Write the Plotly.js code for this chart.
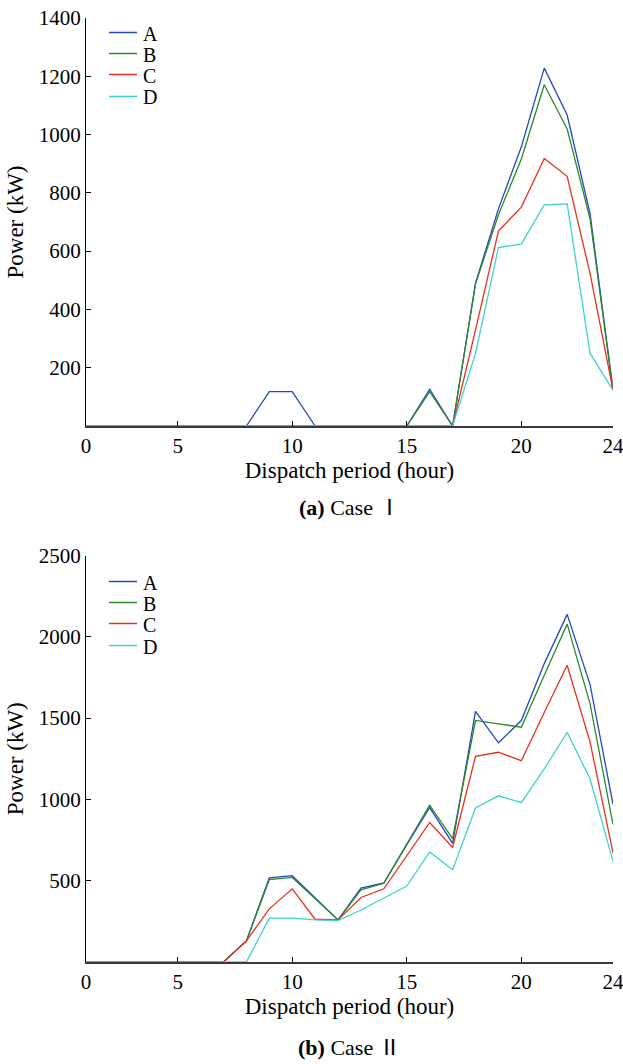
<!DOCTYPE html>
<html>
<head>
<meta charset="utf-8">
<script src="https://cdn.plot.ly/plotly-3.0.1.min.js"></script>
<style>html,body{margin:0;padding:0;background:#fff;}#chart{width:623px;height:1064px;}</style>
</head>
<body>
<div id="chart"></div>
<script>
// ---------- data ----------
const hours = [1,2,3,4,5,6,7,8,9,10,11,12,13,14,15,16,17,18,19,20,21,22,23,24];
const xTickVals = [1,5,10,15,20,24];
const xTickText = ['0','5','10','15','20','24'];
const seriesNames = ['A','B','C','D'];
const seriesColors = ['#2447c0','#2a8a2a','#e8301e','#3fd3d0'];

// Case I
const caseI_A = [0,0,0,0,0,0,0,0,118,118,0,0,0,0,0,126,0,490,745,958,1228,1067,728,123];
const caseI_B = [0,0,0,0,0,0,0,0,0,0,0,0,0,0,0,118,0,488,725,916,1171,1019,711,123];
const caseI_C = [0,0,0,0,0,0,0,0,0,0,0,0,0,0,0,0,0,330,669,751,918,857,523,123];
const caseI_D = [0,0,0,0,0,0,0,0,0,0,0,0,0,0,0,0,0,249,612,625,759,762,249,123];
const caseI_yTicks = [200,400,600,800,1000,1200,1400];

// Case II
const caseII_A = [0,0,0,0,0,0,0,130,517,531,392,259,455,486,722,950,730,1542,1348,1485,1835,2138,1706,970];
const caseII_B = [0,0,0,0,0,0,0,130,506,520,390,259,444,484,725,965,759,1486,1465,1444,1763,2078,1588,846];
const caseII_C = [0,0,0,0,0,0,0,130,327,450,263,259,397,450,654,858,704,1265,1290,1238,1535,1825,1352,671];
const caseII_D = [0,0,0,0,0,0,0,0,270,270,259,255,320,391,467,677,568,947,1022,980,1187,1413,1125,619];
const caseII_yTicks = [500,1000,1500,2000,2500];

const xTitle = 'Dispatch period (hour)';
const yTitle = 'Power (kW)';
const captionI = '<b>(a)</b> Case Ⅰ';
const captionII = '<b>(b)</b> Case Ⅱ';

// ---------- figure ----------
const FONT = "'Liberation Serif', 'Times New Roman', 'Noto Sans CJK SC', serif";
const W = 623, H = 1064, M = {l:86, r:10, t:18, b:102};
const PW = W - M.l - M.r, PH = H - M.t - M.b;
const px2x = p => (p - M.l) / PW;
const px2y = p => (H - M.b - p) / PH;

const caseI = [caseI_A, caseI_B, caseI_C, caseI_D];
const caseII = [caseII_A, caseII_B, caseII_C, caseII_D];

const traces = [];
caseI.forEach((ys, i) => traces.push({
  x: hours, y: ys, type: 'scatter', mode: 'lines', name: seriesNames[i],
  xaxis: 'x', yaxis: 'y', showlegend: false,
  line: {color: seriesColors[i], width: 1.3}
}));
caseII.forEach((ys, i) => traces.push({
  x: hours, y: ys, type: 'scatter', mode: 'lines', name: seriesNames[i],
  xaxis: 'x2', yaxis: 'y2', showlegend: false,
  line: {color: seriesColors[i], width: 1.3}
}));

function xAxis(anchor) {
  return {
    anchor: anchor, domain: [0, 1], range: [1, 24],
    tickmode: 'array', tickvals: xTickVals, ticktext: xTickText,
    ticks: 'inside', ticklen: 5, tickcolor: '#000', tickwidth: 1,
    showline: true, linecolor: '#3a3a3a', linewidth: 1.5,
    showgrid: false, zeroline: false, ticklabeloverflow: 'allow',
    tickfont: {family: FONT, size: 21, color: '#000'},
    title: {text: xTitle, font: {family: FONT, size: 23, color: '#000'}, standoff: 4}
  };
}
function yAxis(anchor, domain, range, ticks) {
  return {
    anchor: anchor, domain: domain, range: range,
    tickmode: 'array', tickvals: ticks,
    ticks: 'inside', ticklen: 5, tickcolor: '#000', tickwidth: 1,
    showline: true, linecolor: '#000', linewidth: 1,
    showgrid: false, zeroline: false, ticklabeloverflow: 'allow',
    tickfont: {family: FONT, size: 21, color: '#000'},
    title: {text: yTitle, font: {family: FONT, size: 23, color: '#000'}, standoff: 8}
  };
}

const topDomain = [px2y(426), 1];
const botDomain = [0, px2y(555.5)];

const annotations = [];
const shapes = [];
function addLegend(rowsPx) {
  seriesNames.forEach((n, i) => {
    shapes.push({type: 'line', xref: 'paper', yref: 'paper',
      x0: px2x(109), x1: px2x(137), y0: px2y(rowsPx[i]), y1: px2y(rowsPx[i]),
      line: {color: seriesColors[i], width: 1.5}});
    annotations.push({xref: 'paper', yref: 'paper', x: px2x(141), y: px2y(rowsPx[i] + 1),
      xanchor: 'left', yanchor: 'middle', showarrow: false, text: n,
      font: {family: FONT, size: 20, color: '#000'}});
  });
}
addLegend([32.5, 53.5, 74.5, 96.5]);
addLegend([581.5, 602.5, 623.5, 645.5]);

annotations.push({xref: 'paper', yref: 'paper', x: 0.5, y: px2y(507), xanchor: 'center', yanchor: 'middle',
  showarrow: false, text: captionI, font: {family: FONT, size: 22, color: '#000'}});
annotations.push({xref: 'paper', yref: 'paper', x: 0.5, y: px2y(1047), xanchor: 'center', yanchor: 'middle',
  showarrow: false, text: captionII, font: {family: FONT, size: 22, color: '#000'}});

const layout = {
  width: W, height: H, margin: M,
  paper_bgcolor: '#fff', plot_bgcolor: '#fff',
  showlegend: false,
  font: {family: FONT, color: '#000'},
  xaxis: xAxis('y'),
  yaxis: yAxis('x', topDomain, [0, 1400], caseI_yTicks),
  xaxis2: xAxis('y2'),
  yaxis2: yAxis('x2', botDomain, [0, 2500], caseII_yTicks),
  annotations: annotations,
  shapes: shapes
};

Plotly.newPlot('chart', traces, layout, {staticPlot: true, displayModeBar: false});
</script>
</body>
</html>
